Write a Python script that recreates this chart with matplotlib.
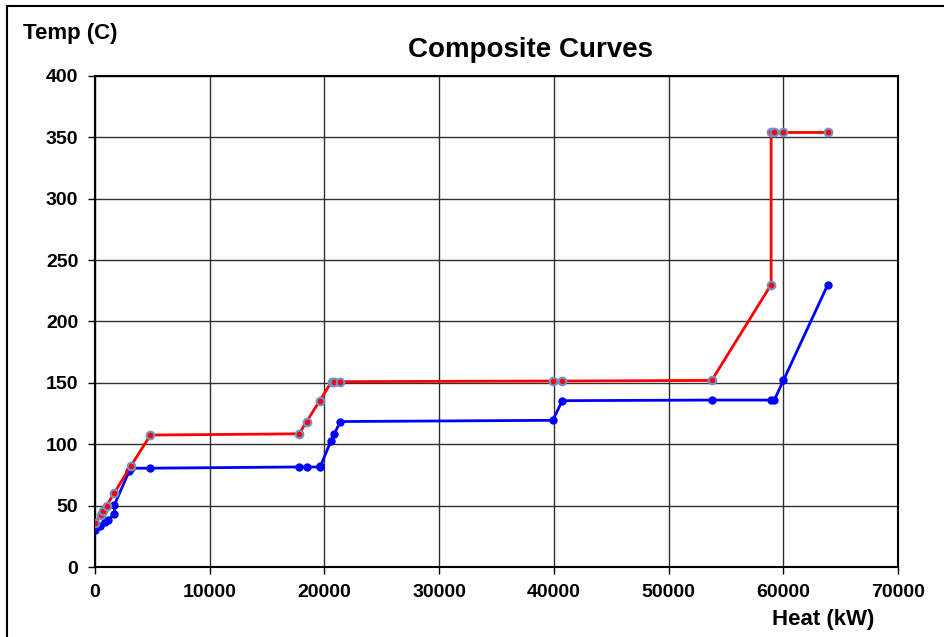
import matplotlib
matplotlib.use("Agg")
from matplotlib import pyplot as plt
from matplotlib.patches import Rectangle

# hot composite curve (red)
hot_heat = [0, 500, 730, 1020, 1690, 3110, 4830, 17790, 18450, 19590,
            20630, 20860, 21360, 39900, 40740, 53760, 58940, 58940,
            59220, 60010, 63880]
hot_temp = [36, 42.5, 46, 50, 60.5, 82, 107.5, 108.5, 118.5, 135.5,
            151, 151, 151, 151.5, 151.5, 152, 230, 354,
            354, 354, 354]

# cold composite curve (blue)
cold_heat = [0, 440, 870, 1100, 1690, 1690, 3000, 3140, 4830, 17790,
             18510, 19590, 19650, 20580, 20860, 21390, 39900, 40740,
             53760, 58940, 59220, 60010, 63880]
cold_temp = [30.5, 33.5, 36.5, 38, 43, 50.5, 78.5, 80.5, 80.5, 81.5,
             81.5, 81.5, 82, 103, 108.5, 118.5, 119.5, 135.5,
             136, 136, 136, 152, 230]

xticks = list(range(0, 70001, 10000))
yticks = list(range(0, 401, 50))

plt.rcParams['font.family'] = ['Liberation Sans', 'DejaVu Sans']
plt.rcParams['font.weight'] = 'bold'

fig = plt.figure(figsize=(9.44, 6.37), dpi=100)
ax = fig.add_axes([95 / 944, 1 - 567 / 637, 803 / 944, 491 / 637])

# outer chart frame
fig.patches.append(Rectangle((7 / 944, -0.1), 1.2, 1.1 - 6 / 637,
                             transform=fig.transFigure, fill=False,
                             edgecolor='black', linewidth=1.5))

ax.plot(cold_heat, cold_temp, color='#0000ff', linewidth=2, marker='o',
        markersize=5, markerfacecolor='#0000ff', markeredgecolor='#0000ff',
        zorder=3)
ax.plot(hot_heat, hot_temp, color='#ff0000', linewidth=2, marker='o',
        markersize=5.5, markerfacecolor='#ff0000', markeredgecolor='#6f93c8',
        markeredgewidth=1.5, zorder=4)

ax.set_xlim(0, 70000)
ax.set_ylim(0, 400)
ax.set_xticks(xticks)
ax.set_yticks(yticks)
ax.grid(True, color='#303030', linewidth=1)
ax.set_axisbelow(True)
ax.tick_params(direction='out', length=5, width=1, labelsize=14, pad=7)
for lab in ax.get_xticklabels() + ax.get_yticklabels():
    lab.set_fontweight('bold')
for sp in ax.spines.values():
    sp.set_linewidth(1.5)

fig.text(530 / 944, 1 - 50 / 637, 'Composite Curves', ha='center',
         va='center', fontsize=20, fontweight='bold')
fig.text(23 / 944, 1 - 33 / 637, 'Temp (C)', ha='left', va='center',
         fontsize=16, fontweight='bold')
fig.text(823 / 944, 1 - 620 / 637, 'Heat (kW)', ha='center', va='center',
         fontsize=16, fontweight='bold')

fig.savefig('out.png', dpi=100)
